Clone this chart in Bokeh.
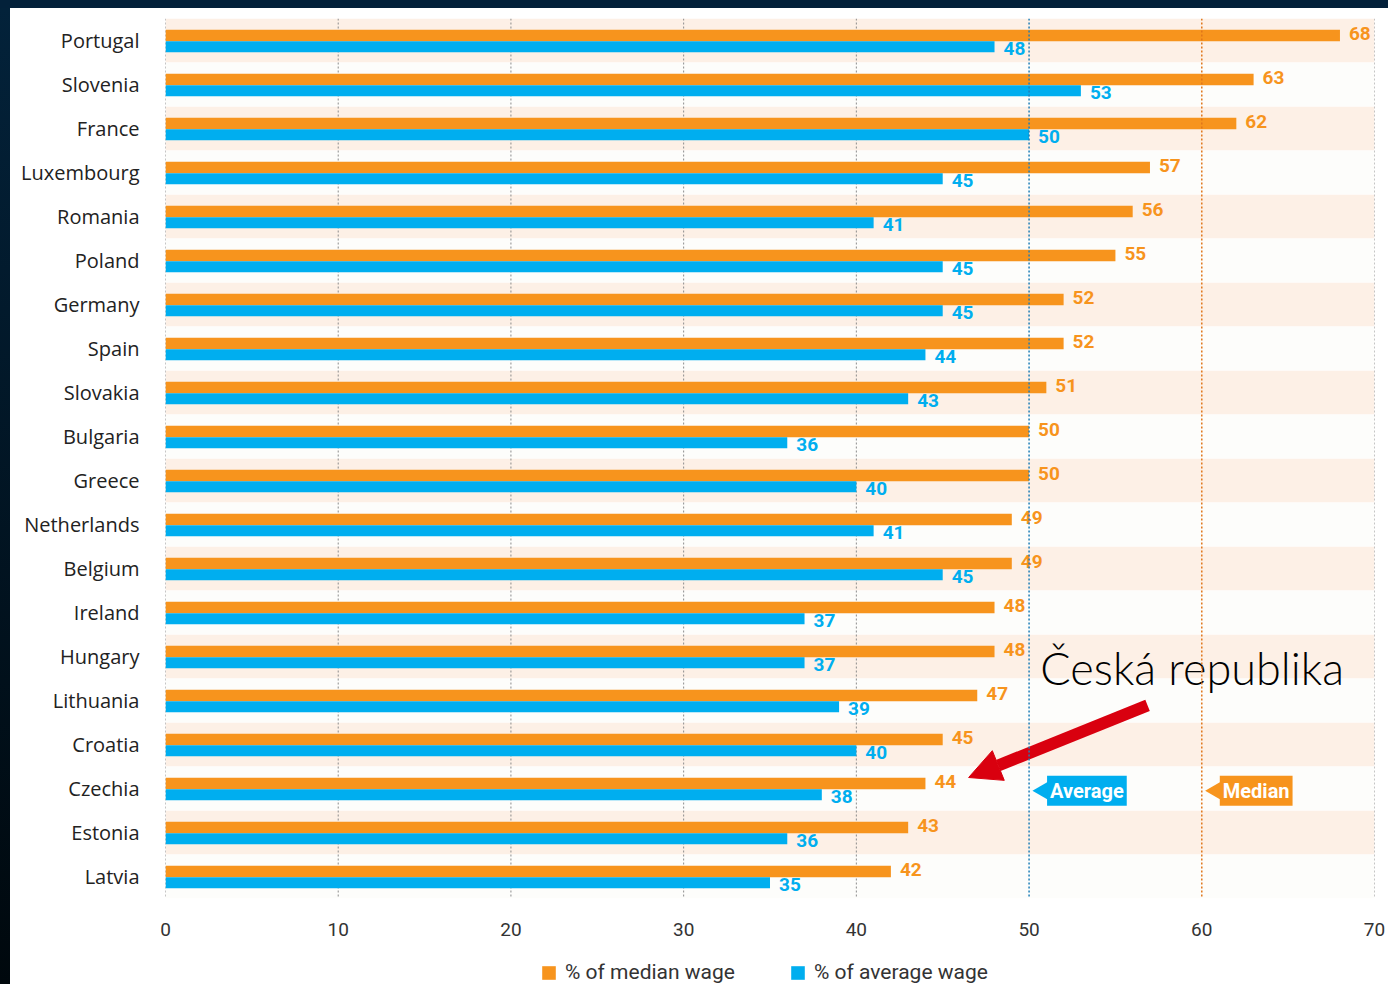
import math
from bokeh.plotting import figure
from bokeh.models import (Range1d, FixedTicker, Span, Label, Legend, LegendItem,
                          ColumnDataSource, Arrow, NormalHead, Div)
from bokeh.layouts import column, row
from bokeh.core.properties import value
from bokeh.transform import dodge
from bokeh.embed import file_html
from bokeh.resources import INLINE

countries = ["Portugal", "Slovenia", "France", "Luxembourg", "Romania", "Poland",
             "Germany", "Spain", "Slovakia", "Bulgaria", "Greece", "Netherlands",
             "Belgium", "Ireland", "Hungary", "Lithuania", "Croatia", "Czechia",
             "Estonia", "Latvia"]
median_pct = [68, 63, 62, 57, 56, 55, 52, 52, 51, 50, 50, 49, 49, 48, 48, 47, 45, 44, 43, 42]
average_pct = [48, 53, 50, 45, 41, 45, 45, 44, 43, 36, 40, 41, 45, 37, 37, 39, 40, 38, 36, 35]
x_ticks = [0, 10, 20, 30, 40, 50, 60, 70]
grid_ticks = [0, 10, 20, 30, 40, 70]
series_names = ["% of median wage", "% of average wage"]
AVG_REF = 50
MED_REF = 60
HIGHLIGHT = "Czechia"
ANNOT_TEXT = "Česká republika"

ORANGE = "#f7941d"
BLUE = "#00aeef"
RED = "#d9000f"
BAND = "#fdf0e6"
BAND2 = "#fdfdfb"

n = len(countries)
rows = list(range(n))

src = ColumnDataSource(dict(
    row=rows, country=countries, med=median_pct, avg=average_pct,
    med_txt=[str(v) for v in median_pct], avg_txt=[str(v) for v in average_pct],
))

p = figure(width=1378, height=932, x_range=Range1d(0, 70), y_range=Range1d(n - 0.5, -0.5),
           output_backend="svg", toolbar_location=None,
           min_border_left=155, min_border_right=14, min_border_top=10, min_border_bottom=42)
p.outline_line_color = None
p.background_fill_color = "white"
p.border_fill_color = "white"
p.xgrid.visible = False
p.ygrid.visible = False

# bands
p.hbar(y=[r for r in rows if r % 2 == 0], left=0, right=70, height=1,
       fill_color=BAND, line_color=None)
p.hbar(y=[r for r in rows if r % 2 == 1], left=0, right=70, height=1,
       fill_color=BAND2, line_color=None)

# grid lines
p.segment(x0=grid_ticks, y0=-0.5, x1=grid_ticks, y1=n - 0.5,
          line_color="#8c8c8c", line_width=1, line_dash="2 2")

# bars
r_med = p.hbar(y=dodge("row", -0.115), left=0, right="med", height=0.26, source=src,
               fill_color=ORANGE, line_color=None)
r_avg = p.hbar(y=dodge("row", 0.14), left=0, right="avg", height=0.25, source=src,
               fill_color=BLUE, line_color=None)

# reference lines
p.add_layout(Span(location=AVG_REF, dimension="height", line_color="#1f7fb8",
                  line_width=1.5, line_dash="2 2", level="overlay"))
p.add_layout(Span(location=MED_REF, dimension="height", line_color="#e0761a",
                  line_width=1.5, line_dash="2 2", level="overlay"))

# value labels
p.text(x="med", y="row", text="med_txt", source=src, x_offset=9, y_offset=-7,
       text_font=value("Roboto"), text_font_style="bold", text_font_size="19px",
       text_color=ORANGE, text_baseline="middle", text_align="left")
p.text(x="avg", y="row", text="avg_txt", source=src, x_offset=9, y_offset=8,
       text_font=value("Roboto"), text_font_style="bold", text_font_size="19px",
       text_color=BLUE, text_baseline="middle", text_align="left")

# tags
hi = countries.index(HIGHLIGHT)
p.scatter(x=[AVG_REF + 1.03], y=[hi + 0.05], marker="triangle", size=25,
          angle=math.pi / 2, fill_color=BLUE, line_color=None)
p.scatter(x=[MED_REF + 1.03], y=[hi + 0.05], marker="triangle", size=25,
          angle=math.pi / 2, fill_color=ORANGE, line_color=None)
for xv, txt, col in [(AVG_REF, "Average", BLUE), (MED_REF, "Median", ORANGE)]:
    p.add_layout(Label(x=xv, y=hi + 0.05, x_offset=18, text=txt,
                       text_font="Roboto", text_font_style="bold",
                       text_font_size="20px", text_color="white",
                       text_baseline="middle", background_fill_color=col,
                       padding=3))

# annotation
p.add_layout(Label(x=50.65, y=14.25, text=ANNOT_TEXT,
                   text_font="'Lato Light', 'Open Sans Light', 'Open Sans'",
                   text_font_size="45px", text_color="black", text_baseline="middle"))
p.add_layout(Arrow(x_start=56.86, y_start=15.11, x_end=46.5, y_end=16.75,
                   line_color=RED, line_width=12,
                   end=NormalHead(size=32, fill_color=RED, line_color=RED)))

# axes
p.xaxis.ticker = FixedTicker(ticks=x_ticks)
p.xaxis.axis_line_color = None
p.xaxis.major_tick_line_color = None
p.xaxis.minor_tick_line_color = None
p.xaxis.major_label_standoff = 18
p.xaxis.major_label_text_font = "Roboto"
p.xaxis.major_label_text_font_size = "19px"
p.xaxis.major_label_text_color = "#333333"

p.yaxis.ticker = FixedTicker(ticks=rows)
p.yaxis.major_label_overrides = {i: c for i, c in enumerate(countries)}
p.yaxis.axis_line_color = None
p.yaxis.major_tick_line_color = None
p.yaxis.minor_tick_line_color = None
p.yaxis.major_label_standoff = 20
p.yaxis.major_label_text_font = "Open Sans"
p.yaxis.major_label_text_font_size = "20px"
p.yaxis.major_label_text_color = "#222222"

# legend strip
p2 = figure(width=1378, height=44, x_range=Range1d(0, 1), y_range=Range1d(0, 1),
            output_backend="svg", toolbar_location=None,
            min_border=0, min_border_left=0, min_border_right=0,
            min_border_top=0, min_border_bottom=0)
p2.axis.visible = False
p2.grid.visible = False
p2.outline_line_color = None
p2.background_fill_color = "white"
p2.border_fill_color = "white"
lr_med = p2.hbar(y=[-10], left=[0], right=[1], height=0.5, fill_color=ORANGE, line_color=None)
lr_avg = p2.hbar(y=[-10], left=[0], right=[1], height=0.5, fill_color=BLUE, line_color=None)
legend = Legend(items=[LegendItem(label=series_names[0], renderers=[lr_med]),
                       LegendItem(label=series_names[1], renderers=[lr_avg])],
                orientation="horizontal", location=(375, 0),
                label_text_font="Roboto", label_text_font_size="21px",
                label_text_color="#333333", glyph_width=17, glyph_height=17,
                spacing=54, label_standoff=8, border_line_color=None,
                background_fill_alpha=0, margin=0, padding=0)
p2.add_layout(legend, "center")

top = Div(text="", width=1388, height=8, margin=0,
          styles={"background": "#03213a"})
left = Div(text="", width=10, height=976, margin=0,
           styles={"background": "linear-gradient(#03223a, #00080d)"})
layout = column(top, row(left, column(p, p2, margin=0, spacing=0), margin=0, spacing=0),
                margin=0, spacing=0)

open("out.html", "w").write(file_html(layout, INLINE))
